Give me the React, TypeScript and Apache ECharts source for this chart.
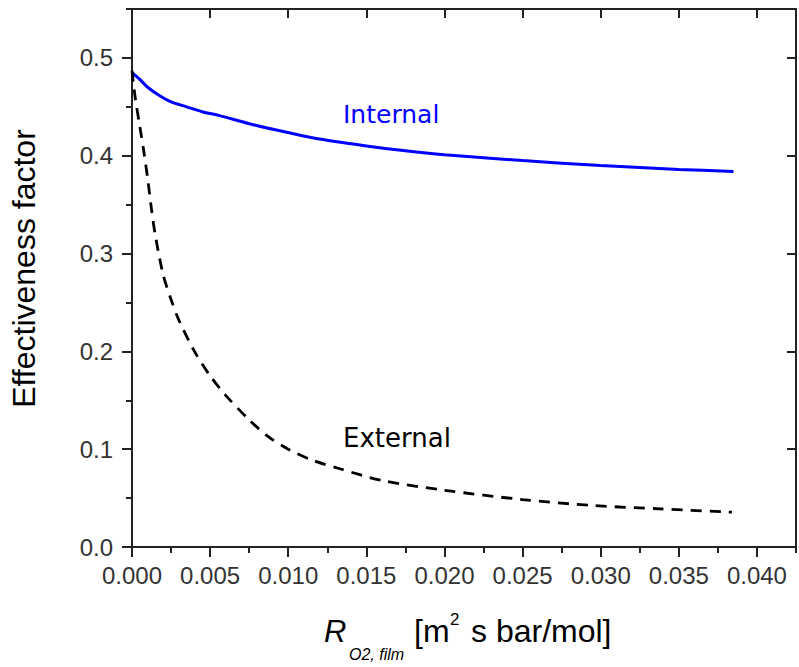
import React, { useEffect, useRef } from "react";
import * as echarts from "echarts";

// ---- data ----
const internalX = [0, 0.0005, 0.001, 0.0018, 0.0025, 0.0035, 0.0045, 0.0056, 0.0077, 0.0099, 0.012, 0.015, 0.0175, 0.02, 0.025, 0.03, 0.035, 0.0385];
const internalY = [0.485, 0.478, 0.47, 0.461, 0.455, 0.45, 0.445, 0.441, 0.432, 0.424, 0.417, 0.41, 0.405, 0.401, 0.395, 0.39, 0.386, 0.384];

const externalX = [0, 0.0002, 0.0005, 0.00075, 0.001, 0.00125, 0.0015, 0.002, 0.0025, 0.003, 0.004, 0.005, 0.006, 0.0075, 0.0087, 0.01, 0.0115, 0.0133, 0.016, 0.02, 0.025, 0.0295, 0.0338, 0.0384];
const externalY = [0.487, 0.46, 0.43, 0.405, 0.377, 0.345, 0.318, 0.278, 0.253, 0.232, 0.2, 0.175, 0.155, 0.13, 0.113, 0.1, 0.089, 0.08, 0.068, 0.058, 0.0485, 0.0424, 0.039, 0.0356];

const xTickValues = [0, 0.005, 0.01, 0.015, 0.02, 0.025, 0.03, 0.035, 0.04];
const yTickValues = [0, 0.1, 0.2, 0.3, 0.4, 0.5];
const xMin = 0;
const xMax = 0.0425;
const xMinorStep = 0.0025;
const yMin = 0;
const yMax = 0.55;
const yMinorStep = 0.05;

const seriesLabels = ["Internal", "External"];
const yTitle = "Effectiveness factor";

const AXIS_COLOR = "#222";
const FONT = "'Liberation Sans', Arial, sans-serif";

export default function App() {
  const ref = useRef<HTMLDivElement>(null);

  useEffect(() => {
    if (!ref.current) return;
    const chart = echarts.init(ref.current, null, { renderer: "svg" });

    const gridPos = { left: 132, top: 9, width: 664, height: 538 };

    const majorX = (position: string, inside: boolean, labels: boolean) => ({
      type: "value",
      gridIndex: 0,
      position,
      min: xMin,
      max: xMax,
      axisLine: { show: true, onZero: false, lineStyle: { color: AXIS_COLOR, width: 2 } },
      axisTick: { show: true, inside, length: inside ? 9 : 10, customValues: xTickValues, lineStyle: { color: AXIS_COLOR, width: 2 } },
      axisLabel: labels
        ? { show: true, customValues: xTickValues, formatter: (v: number) => v.toFixed(3), fontSize: 24, fontFamily: FONT, color: "#333", margin: 16 }
        : { show: false },
      splitLine: { show: false },
    });
    const minorX = (position: string, inside: boolean) => ({
      type: "value",
      gridIndex: 1,
      position,
      min: xMin,
      max: xMax,
      interval: xMinorStep,
      axisLine: { show: false },
      axisTick: { show: true, inside, length: inside ? 5 : 6, lineStyle: { color: AXIS_COLOR, width: 2 } },
      axisLabel: { show: false },
      splitLine: { show: false },
    });
    const majorY = (position: string, inside: boolean, labels: boolean) => ({
      type: "value",
      gridIndex: 0,
      position,
      min: yMin,
      max: yMax,
      axisLine: { show: true, onZero: false, lineStyle: { color: AXIS_COLOR, width: 2 } },
      axisTick: { show: true, inside, length: inside ? 9 : 10, customValues: yTickValues, lineStyle: { color: AXIS_COLOR, width: 2 } },
      axisLabel: labels
        ? { show: true, customValues: yTickValues, formatter: (v: number) => v.toFixed(1), fontSize: 24, fontFamily: FONT, color: "#333", margin: 19 }
        : { show: false },
      splitLine: { show: false },
    });
    const minorY = (position: string, inside: boolean) => ({
      type: "value",
      gridIndex: 1,
      position,
      min: yMin,
      max: yMax,
      interval: yMinorStep,
      axisLine: { show: false },
      axisTick: { show: true, inside, length: inside ? 5 : 6, lineStyle: { color: AXIS_COLOR, width: 2 } },
      axisLabel: { show: false },
      splitLine: { show: false },
    });

    const zip = (xs: number[], ys: number[]) => xs.map((x, i) => [x, ys[i]]);

    chart.setOption({
      animation: false,
      backgroundColor: "#fff",
      grid: [
        { ...gridPos, containLabel: false },
        { ...gridPos, containLabel: false },
      ],
      xAxis: [
        majorX("bottom", false, true),
        majorX("top", true, false),
        minorX("bottom", false),
        minorX("top", true),
      ],
      yAxis: [
        majorY("left", false, true),
        majorY("right", true, false),
        minorY("left", false),
        minorY("right", true),
      ],
      series: [
        {
          name: seriesLabels[0],
          type: "line",
          xAxisIndex: 0,
          yAxisIndex: 0,
          data: zip(internalX, internalY),
          showSymbol: false,
          symbol: "none",
          smooth: 0.3,
          lineStyle: { color: "#0000ff", width: 3 },
          z: 3,
        },
        {
          name: seriesLabels[1],
          type: "line",
          xAxisIndex: 0,
          yAxisIndex: 0,
          data: zip(externalX, externalY),
          showSymbol: false,
          symbol: "none",
          smooth: 0.3,
          lineStyle: { color: "#000", width: 2.8, type: [11, 8] },
          z: 3,
        },
      ],
      graphic: [
        {
          type: "text",
          x: 343,
          y: 114.7,
          style: { text: seriesLabels[0], fill: "#0000ff", fontSize: 25, fontFamily: "'DejaVu Sans', sans-serif", align: "left", verticalAlign: "middle" },
        },
        {
          type: "text",
          x: 343,
          y: 437.7,
          style: { text: seriesLabels[1], fill: "#000", fontSize: 26, fontFamily: "'DejaVu Sans', sans-serif", align: "left", verticalAlign: "middle" },
        },
        {
          type: "text",
          x: 24,
          y: 268.5,
          rotation: Math.PI / 2,
          style: { text: yTitle, fill: "#000", fontSize: 32, fontFamily: FONT, align: "center", verticalAlign: "middle" },
        },
        {
          type: "text",
          x: 324,
          y: 631.3,
          style: { text: "R", fill: "#000", fontSize: 31, fontStyle: "italic", fontFamily: FONT, align: "left", verticalAlign: "middle" },
        },
        {
          type: "text",
          x: 349,
          y: 654.5,
          style: { text: "O2, film", fill: "#000", fontSize: 16, fontStyle: "italic", fontFamily: FONT, align: "left", verticalAlign: "middle" },
        },
        {
          type: "text",
          x: 414,
          y: 631,
          style: { text: "[m", fill: "#000", fontSize: 32, fontFamily: FONT, align: "left", verticalAlign: "middle" },
        },
        {
          type: "text",
          x: 450,
          y: 619,
          style: { text: "2", fill: "#000", fontSize: 17, fontFamily: FONT, align: "left", verticalAlign: "middle" },
        },
        {
          type: "text",
          x: 471,
          y: 631,
          style: { text: "s bar/mol]", fill: "#000", fontSize: 32, fontFamily: FONT, align: "left", verticalAlign: "middle" },
        },
      ],
    });

    return () => chart.dispose();
  }, []);

  return (
    <div
      ref={ref}
      style={{ position: "absolute", left: 0, top: 0, width: 799, height: 667, background: "#fff" }}
    />
  );
}
